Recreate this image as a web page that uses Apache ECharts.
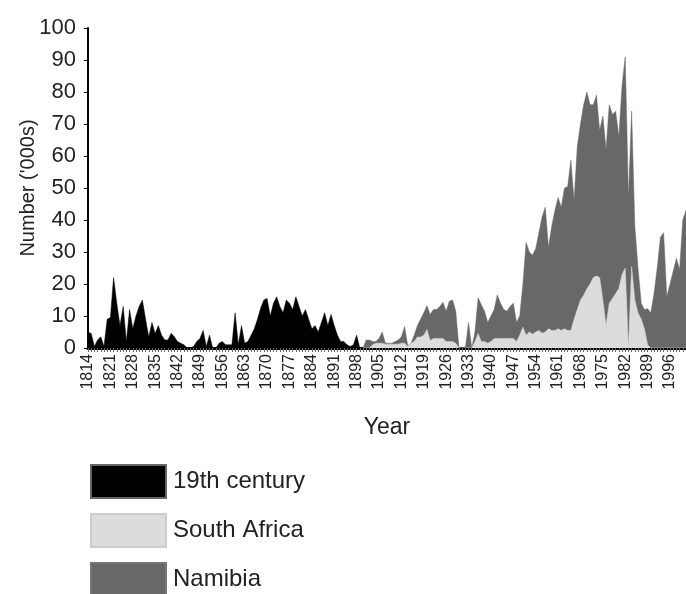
<!DOCTYPE html>
<html>
<head>
<meta charset="utf-8">
<script src="https://cdn.jsdelivr.net/npm/echarts@6/dist/echarts.min.js"></script>
<style>
  html, body { margin: 0; padding: 0; background: #fff; }
  #chart { width: 686px; height: 594px; }
</style>
</head>
<body>
<div id="chart"></div>
<script>
// years on the category axis
var firstYear = 1814;
var lastYear = 2001;

// 19th century migrants ('000s), 1814-1899
var centuryStart = 1814;
var century19 = [
  5, 4.5, 0.5, 2.5, 3.5, 0.5, 9, 9.5, 22, 14,
  7, 13, 2, 12, 6, 10, 13, 15, 9, 3.5,
  8, 4.5, 7, 4, 2.5, 2.5, 4.6, 3.5, 2, 1.5,
  1, 0, 0, 0.5, 2, 3, 5.5, 0.5, 4, 0,
  0, 1.5, 2, 1, 1, 1, 11, 1, 7, 1.5,
  2, 4, 6, 9, 12.5, 15, 15.5, 10, 14, 16,
  13, 11, 15, 14, 12, 16, 13, 10, 12, 9,
  6, 7, 5, 8, 11, 7, 10.5, 7, 4, 2,
  2, 1, 0.5, 1, 4, 0
];

// Namibia ('000s), 1900-2001 (outline of the dark area)
var namibiaStart = 1900;
var namibia = [
  0, 2.5, 2.5, 2, 2, 3, 5, 1.5, 1.5, 1.5,
  2, 2.5, 3.5, 6.7, 0.7, 1.5, 4, 7, 9, 11,
  13.2, 10.5, 12, 12, 13, 14.3, 11.5, 14.6, 15, 11.5,
  0, 0, 0, 8, 0, 5, 15.7, 13.5, 11.5, 8,
  10, 12, 16.6, 14, 12, 11.5, 13, 14, 8, 10,
  20, 33, 30, 29, 31, 36, 41, 44, 31.5, 38,
  43, 47, 44, 50, 50.5, 58.7, 46, 63, 70, 76,
  80, 76, 76, 79, 68, 72.5, 62, 76, 73, 74,
  66, 82, 91, 47, 74, 38, 25, 14, 12, 12.3,
  11, 17, 25, 34.6, 36, 16, 20, 24, 28, 24.5,
  40, 43
];

// South Africa ('000s), 1900-2001
var southAfricaStart = 1900;
var southAfrica = [
  0, 0, 0, 1, 1.5, 1.5, 1.5, 1.2, 1.2, 1.2,
  1.2, 1.2, 1.5, 1.5, 0.5, 1.5, 2, 3.4, 3.4, 4,
  5.8, 2.3, 3, 3, 3, 3, 2, 2, 2, 1.5,
  0, 0, 0, 0, 0, 2, 4.5, 2, 2, 1.5,
  2, 3, 3, 3, 3, 3, 3, 3, 2, 4,
  6.5, 4, 5, 4.3, 5, 5.5, 4.6, 5, 6, 5.5,
  5.5, 6, 5.5, 6, 5.5, 5.5, 9, 12, 15, 16.5,
  18.5, 20, 22, 22.5, 22, 15, 7, 14, 15.5, 17,
  18.6, 23, 25, 0, 25.5, 15, 11, 9, 6, 1,
  0, 0, 0, 0, 0, 0, 0, 0, 0, 0,
  0, 0
];

var years = [];
for (var y = firstYear; y <= lastYear; y++) years.push(String(y));

// place a series that starts at a given year onto the full year axis
function onAxis(values, start) {
  var out = [];
  for (var i = 0; i < years.length; i++) {
    var k = firstYear + i - start;
    out.push(k >= 0 && k < values.length ? values[k] : null);
  }
  return out;
}

var chart = echarts.init(document.getElementById('chart'));
var font = 'Liberation Sans, Arial, sans-serif';

// one legend block per row, so they stack like the original key
function legendRow(name, top) {
  return {
    orient: 'vertical',
    left: 90,
    top: top,
    padding: 0,
    itemWidth: 75,
    itemHeight: 33,
    icon: 'rect',
    selectedMode: false,
    data: [name],
    textStyle: { fontFamily: font, fontSize: 24, color: '#222', padding: [0, 0, 0, 2] }
  };
}

var option = {
  backgroundColor: '#fff',
  animation: false,
  grid: { left: 88, right: 0, top: 28, bottom: 246 },
  legend: [
    legendRow('19th century', 464),
    legendRow('South Africa', 513),
    legendRow('Namibia', 562)
  ],
  xAxis: {
    type: 'category',
    data: years,
    boundaryGap: false,
    name: 'Year',
    nameLocation: 'middle',
    nameGap: 68,
    nameTextStyle: { fontFamily: font, fontSize: 23, color: '#222' },
    axisLine: { lineStyle: { color: '#000', width: 3 } },
    axisTick: { interval: 0, length: 4, lineStyle: { color: '#666', width: 1 } },
    axisLabel: {
      interval: 6,
      rotate: 90,
      margin: 6,
      fontFamily: font,
      fontSize: 16,
      color: '#222'
    },
    splitLine: { show: false }
  },
  yAxis: {
    type: 'value',
    min: 0,
    max: 100,
    interval: 10,
    name: "Number ('000s)",
    nameLocation: 'middle',
    nameGap: 50,
    nameMoveOverlap: false,
    nameTextStyle: { fontFamily: font, fontSize: 20, color: '#222' },
    axisLine: { show: true, lineStyle: { color: '#000', width: 2 } },
    axisTick: { show: true, length: 4, lineStyle: { color: '#000' } },
    axisLabel: { fontFamily: font, fontSize: 22, color: '#222', margin: 12 },
    splitLine: { show: false }
  },
  series: [
    {
      name: '19th century',
      type: 'line',
      data: onAxis(century19, centuryStart),
      showSymbol: false,
      lineStyle: { width: 0.5, color: '#000' },
      itemStyle: { color: '#000', borderColor: '#666', borderWidth: 1 },
      areaStyle: { color: '#000', opacity: 1 },
      z: 3
    },
    {
      name: 'South Africa',
      type: 'line',
      data: onAxis(southAfrica, southAfricaStart),
      showSymbol: false,
      lineStyle: { width: 0.5, color: '#dcdcdc' },
      itemStyle: { color: '#dcdcdc', borderColor: '#ccc', borderWidth: 1 },
      areaStyle: { color: '#dcdcdc', opacity: 1 },
      z: 4
    },
    {
      name: 'Namibia',
      type: 'line',
      data: onAxis(namibia, namibiaStart),
      showSymbol: false,
      lineStyle: { width: 0.5, color: '#686868' },
      itemStyle: { color: '#686868', borderColor: '#777', borderWidth: 1 },
      areaStyle: { color: '#686868', opacity: 1 },
      z: 2
    }
  ]
};

chart.setOption(option);
</script>
</body>
</html>
